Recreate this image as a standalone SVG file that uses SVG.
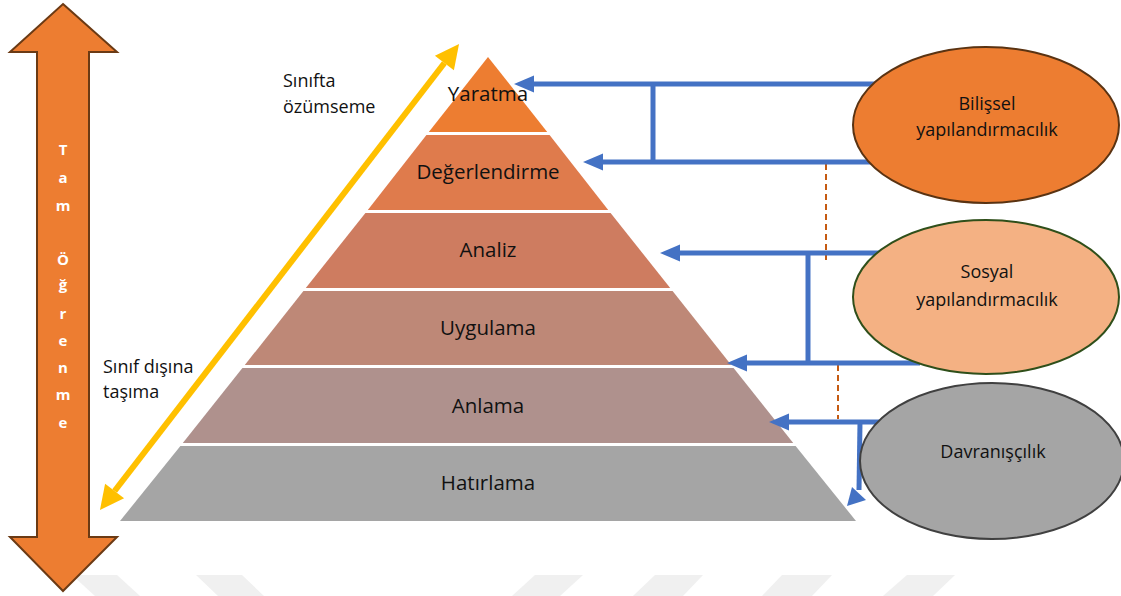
<svg xmlns="http://www.w3.org/2000/svg" width="1121" height="596" viewBox="0 0 1121 596">
  <defs>
    <style>
      .lbl { font-family: "Open Sans", "Liberation Sans", sans-serif; fill: #111; }
      .layer { font-size: 20.5px; text-anchor: middle; }
      .side { font-size: 18px; }
      .oval { font-size: 18px; text-anchor: middle; }
      .vert { font-family: "Open Sans", "Liberation Sans", sans-serif; font-weight: bold; font-size: 15px; fill: #fff; text-anchor: middle; }
      .blue { stroke: #4472C4; stroke-width: 5; fill: none; }
      .dash { stroke: #C55A11; stroke-width: 2; stroke-dasharray: 6 4; fill: none; }
      .sep { stroke: #fff; stroke-width: 3; }
      .wm { fill: #F0F0F0; }
    </style>
    <marker id="blueHead" markerUnits="userSpaceOnUse" markerWidth="20" markerHeight="17" refX="0" refY="8.5" orient="auto" overflow="visible">
      <path d="M0,0 L20,8.5 L0,17 z" fill="#4472C4"/>
    </marker>
    <marker id="goldHead" markerUnits="userSpaceOnUse" markerWidth="24" markerHeight="24" refX="0" refY="12" orient="auto-start-reverse" overflow="visible">
      <path d="M0,0 L24,12 L0,24 z" fill="#FFC000"/>
    </marker>
  </defs>

  <rect width="1121" height="596" fill="#fff"/>

  <!-- faint background marks along the bottom edge -->
  <g id="bottom-marks">
    <polygon class="wm" points="72,575 117,575 140,596 95,596"/>
    <polygon class="wm" points="196,575 242,575 264,596 218,596"/>
    <polygon class="wm" points="535,575 583,575 560,596 512,596"/>
    <polygon class="wm" points="655,575 703,575 683,596 633,596"/>
    <polygon class="wm" points="782,575 832,575 812,596 762,596"/>
    <polygon class="wm" points="907,575 955,575 933,596 883,596"/>
  </g>

  <!-- vertical double arrow: Tam Öğrenme -->
  <g id="tam-ogrenme">
    <polygon points="63,4 117,52 89,52 89,537 117,537 63,591 10,537 37,537 37,52 10,52" fill="#ED7D31" stroke="#6B3A14" stroke-width="2" stroke-linejoin="miter"/>
    <text class="vert" x="63" y="155">T</text>
    <text class="vert" x="63" y="183">a</text>
    <text class="vert" x="63" y="211">m</text>
    <text class="vert" x="63" y="265">Ö</text>
    <text class="vert" x="63" y="290">ğ</text>
    <text class="vert" x="63" y="319">r</text>
    <text class="vert" x="63" y="346">e</text>
    <text class="vert" x="63" y="373">n</text>
    <text class="vert" x="63" y="400">m</text>
    <text class="vert" x="63" y="428">e</text>
  </g>

  <!-- pyramid layers -->
  <g id="pyramid">
    <polygon id="layer-hatirlama" points="182,444 794,444 856,521 120,521" fill="#A5A5A5"/>
    <polygon id="layer-anlama" points="244,366 732,366 794,444 182,444" fill="#AF918D"/>
    <polygon id="layer-uygulama" points="305,289 671,289 732,366 244,366" fill="#BE8877"/>
    <polygon id="layer-analiz" points="367,211 609,211 671,289 305,289" fill="#CE7C60"/>
    <polygon id="layer-degerlendirme" points="428,133 548,133 609,211 367,211" fill="#DF7B4C"/>
    <polygon id="layer-yaratma" points="488,57 548,133 428,133" fill="#ED7D31"/>
    <line class="sep" x1="420" y1="133.5" x2="560" y2="133.5"/>
    <line class="sep" x1="360" y1="211.5" x2="620" y2="211.5"/>
    <line class="sep" x1="295" y1="289.5" x2="680" y2="289.5"/>
    <line class="sep" x1="235" y1="366.5" x2="740" y2="366.5"/>
    <line class="sep" x1="175" y1="444.5" x2="800" y2="444.5"/>
    <text class="lbl layer" x="488" y="101">Yaratma</text>
    <text class="lbl layer" x="488" y="179">Değerlendirme</text>
    <text class="lbl layer" x="488" y="257">Analiz</text>
    <text class="lbl layer" x="488" y="335">Uygulama</text>
    <text class="lbl layer" x="488" y="413">Anlama</text>
    <text class="lbl layer" x="488" y="490">Hatırlama</text>
  </g>

  <!-- diagonal two-way arrow with its labels -->
  <g id="transfer">
    <line x1="114.6" y1="491" x2="444.4" y2="63" stroke="#FFC000" stroke-width="6" marker-start="url(#goldHead)" marker-end="url(#goldHead)"/>
    <text class="lbl side" x="283" y="87">Sınıfta</text>
    <text class="lbl side" x="283" y="113">özümseme</text>
    <text class="lbl side" x="103" y="373">Sınıf dışına</text>
    <text class="lbl side" x="103" y="398">taşıma</text>
  </g>

  <!-- connectors from the approaches to the pyramid -->
  <g id="connectors">
    <line class="dash" x1="826" y1="164" x2="826" y2="261"/>
    <line class="dash" x1="838" y1="365" x2="838" y2="419"/>
    <path class="blue" d="M653,84 V162"/>
    <line class="blue" x1="900" y1="84" x2="534" y2="84" marker-end="url(#blueHead)"/>
    <line class="blue" x1="900" y1="162" x2="603" y2="162" marker-end="url(#blueHead)"/>
    <path class="blue" d="M808,253 V363"/>
    <line class="blue" x1="900" y1="253" x2="680" y2="253" marker-end="url(#blueHead)"/>
    <line class="blue" x1="920" y1="363" x2="747" y2="363" marker-end="url(#blueHead)"/>
    <line class="blue" x1="900" y1="422" x2="789" y2="422" marker-end="url(#blueHead)"/>
    <path class="blue" d="M860,422 L859,490"/>
    <polygon points="852,487 866,500 847,506" fill="#4472C4"/>
  </g>

  <g id="bilissel">
    <ellipse cx="986" cy="125" rx="133" ry="78" fill="#ED7D31" stroke="#5A3312" stroke-width="2"/>
    <text class="lbl oval" x="987" y="110">Bilişsel</text>
    <text class="lbl oval" x="987" y="136">yapılandırmacılık</text>
  </g>

  <g id="sosyal">
    <ellipse cx="986" cy="297" rx="133" ry="77" fill="#F4B183" stroke="#2F4F1A" stroke-width="2"/>
    <text class="lbl oval" x="987" y="278">Sosyal</text>
    <text class="lbl oval" x="987" y="306">yapılandırmacılık</text>
  </g>

  <g id="davraniscilik">
    <ellipse cx="992" cy="461" rx="132" ry="78" fill="#A5A5A5" stroke="#404040" stroke-width="2"/>
    <text class="lbl oval" x="993" y="458">Davranışçılık</text>
  </g>
</svg>
